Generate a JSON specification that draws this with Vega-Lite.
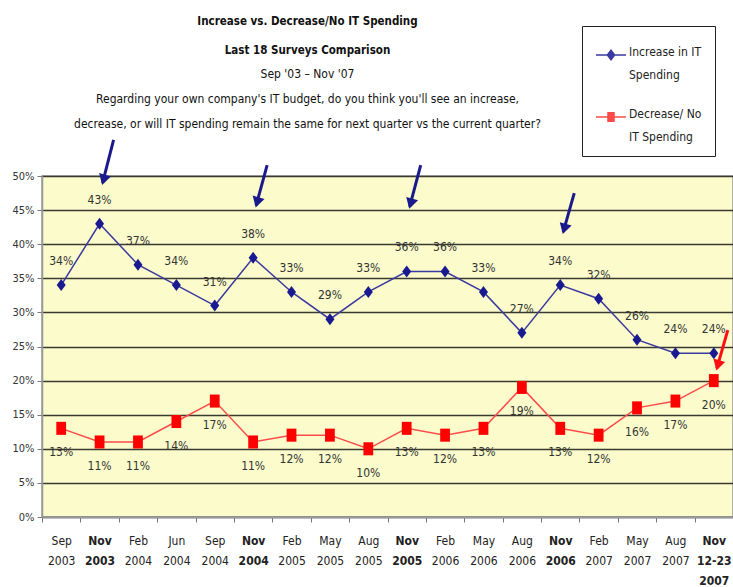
{
  "$schema": "https://vega.github.io/schema/vega-lite/v6.json",
  "width": 691,
  "height": 341,
  "autosize": {"type": "none"},
  "padding": {"left": 42, "top": 176, "right": 0, "bottom": 70},
  "background": "white",
  "config": {
    "font": "Liberation Sans Narrow, DejaVu Sans Condensed, sans-serif",
    "view": {"fill": "#FBFBCB", "stroke": "#999999", "strokeWidth": 1.5}
  },
  "title": {
    "text": ["Increase vs. Decrease/No IT Spending", "Last 18 Surveys Comparison"],
    "subtitle": ["Sep '03 \u2013 Nov '07", "Regarding your own company's IT budget, do you think you'll see an increase,", "decrease, or will IT spending remain the same for next quarter vs the current quarter?"],
    "fontSize": 11.5,
    "fontWeight": "bold",
    "lineHeight": 29,
    "color": "#111111",
    "subtitleFontSize": 12,
    "subtitleLineHeight": 25,
    "subtitleColor": "#111111",
    "subtitlePadding": 12,
    "anchor": "middle",
    "frame": "group",
    "dx": -80,
    "offset": -104
  },
  "datasets": {
    "main": [
      {"cat": "Sep|2003", "series": "Increase in IT Spending", "value": 0.34},
      {"cat": "Nov|2003", "series": "Increase in IT Spending", "value": 0.43},
      {"cat": "Feb|2004", "series": "Increase in IT Spending", "value": 0.37},
      {"cat": "Jun|2004", "series": "Increase in IT Spending", "value": 0.34},
      {"cat": "Sep|2004", "series": "Increase in IT Spending", "value": 0.31},
      {"cat": "Nov|2004", "series": "Increase in IT Spending", "value": 0.38},
      {"cat": "Feb|2005", "series": "Increase in IT Spending", "value": 0.33},
      {"cat": "May|2005", "series": "Increase in IT Spending", "value": 0.29},
      {"cat": "Aug|2005", "series": "Increase in IT Spending", "value": 0.33},
      {"cat": "Nov|2005", "series": "Increase in IT Spending", "value": 0.36},
      {"cat": "Feb|2006", "series": "Increase in IT Spending", "value": 0.36},
      {"cat": "May|2006", "series": "Increase in IT Spending", "value": 0.33},
      {"cat": "Aug|2006", "series": "Increase in IT Spending", "value": 0.27},
      {"cat": "Nov|2006", "series": "Increase in IT Spending", "value": 0.34},
      {"cat": "Feb|2007", "series": "Increase in IT Spending", "value": 0.32},
      {"cat": "May|2007", "series": "Increase in IT Spending", "value": 0.26},
      {"cat": "Aug|2007", "series": "Increase in IT Spending", "value": 0.24},
      {"cat": "Nov|12-23|2007", "series": "Increase in IT Spending", "value": 0.24},
      {"cat": "Sep|2003", "series": "Decrease/ No IT Spending", "value": 0.13},
      {"cat": "Nov|2003", "series": "Decrease/ No IT Spending", "value": 0.11},
      {"cat": "Feb|2004", "series": "Decrease/ No IT Spending", "value": 0.11},
      {"cat": "Jun|2004", "series": "Decrease/ No IT Spending", "value": 0.14},
      {"cat": "Sep|2004", "series": "Decrease/ No IT Spending", "value": 0.17},
      {"cat": "Nov|2004", "series": "Decrease/ No IT Spending", "value": 0.11},
      {"cat": "Feb|2005", "series": "Decrease/ No IT Spending", "value": 0.12},
      {"cat": "May|2005", "series": "Decrease/ No IT Spending", "value": 0.12},
      {"cat": "Aug|2005", "series": "Decrease/ No IT Spending", "value": 0.10},
      {"cat": "Nov|2005", "series": "Decrease/ No IT Spending", "value": 0.13},
      {"cat": "Feb|2006", "series": "Decrease/ No IT Spending", "value": 0.12},
      {"cat": "May|2006", "series": "Decrease/ No IT Spending", "value": 0.13},
      {"cat": "Aug|2006", "series": "Decrease/ No IT Spending", "value": 0.19},
      {"cat": "Nov|2006", "series": "Decrease/ No IT Spending", "value": 0.13},
      {"cat": "Feb|2007", "series": "Decrease/ No IT Spending", "value": 0.12},
      {"cat": "May|2007", "series": "Decrease/ No IT Spending", "value": 0.16},
      {"cat": "Aug|2007", "series": "Decrease/ No IT Spending", "value": 0.17},
      {"cat": "Nov|12-23|2007", "series": "Decrease/ No IT Spending", "value": 0.20}
    ],
    "arrows": [
      {"cat": "Nov|2003", "from": 0.553, "value": 0.49},
      {"cat": "Nov|2004", "from": 0.516, "value": 0.457},
      {"cat": "Nov|2005", "from": 0.516, "value": 0.455},
      {"cat": "Nov|2006", "from": 0.475, "value": 0.418},
      {"cat": "Nov|12-23|2007", "from": 0.274, "value": 0.218}
    ]
  },
  "data": {"name": "main"},
  "encoding": {
    "x": {
      "field": "cat", "type": "ordinal",
      "scale": {"type": "band", "paddingInner": 0, "paddingOuter": 0,
        "domain": ["Sep|2003", "Nov|2003", "Feb|2004", "Jun|2004", "Sep|2004", "Nov|2004", "Feb|2005", "May|2005", "Aug|2005", "Nov|2005", "Feb|2006", "May|2006", "Aug|2006", "Nov|2006", "Feb|2007", "May|2007", "Aug|2007", "Nov|12-23|2007"]},
      "axis": {
        "title": null, "labelAngle": 0, "labelExpr": "isString(datum.value) ? split(datum.value, '|') : ''",
        "labelFontSize": 12, "labelLineHeight": 20, "labelColor": "#222222",
        "labelFontWeight": {"condition": {"test": "isString(datum.value) && indexof(datum.value, 'Nov') == 0", "value": "bold"}, "value": "normal"},
        "labelBaseline": "top", "labelPadding": 13,
        "tickBand": "extent", "tickColor": "#777777", "tickSize": 5,
        "domainColor": "#999999", "domainWidth": 1.5, "grid": false
      }
    },
    "y": {
      "field": "value", "type": "quantitative",
      "scale": {"domain": [0, 0.5], "nice": false},
      "axis": {
        "title": null, "format": ".0%", "values": [0, 0.05, 0.1, 0.15, 0.2, 0.25, 0.3, 0.35, 0.4, 0.45, 0.5],
        "grid": true, "gridColor": "#3a3a30", "gridWidth": 1.3,
        "labelFontSize": 11, "labelColor": "#333333", "labelPadding": 3,
        "tickColor": "#777777", "tickSize": 5, "domainColor": "#999999", "domainWidth": 1.5
      }
    }
  },
  "layer": [
    {
      "mark": {"type": "line", "strokeWidth": 1.5},
      "encoding": {
        "color": {
          "field": "series", "type": "nominal",
          "scale": {"domain": ["Increase in IT Spending", "Decrease/ No IT Spending"], "range": ["#3a3aa0", "#ff4a4a"]},
          "legend": {
            "orient": "none", "legendX": 540, "legendY": -150, "title": null,
            "strokeColor": "#222222", "fillColor": "white", "padding": 13,
            "symbolSize": 900, "symbolStrokeWidth": 1.5, "rowPadding": 20,
            "labelFontSize": 12, "labelColor": "#222222", "labelLimit": 200,
            "labelExpr": "datum.value == 'Increase in IT Spending' ? ['Increase in IT', 'Spending'] : ['Decrease/ No', 'IT Spending']",
            "labelOffset": 2,
            "labelBaseline": "top",
            "encode": {
              "symbols": {"update": {
                "fill": {"scale": "color", "field": "value"},
                "shape": {"signal": "datum.value == 'Increase in IT Spending' ? 'M-1,0H1M0,-0.32L0.24,0L0,0.32L-0.24,0Z' : 'M-1,0H1M-0.2,-0.28H0.2V0.28H-0.2Z'"}
              }},
              "labels": {"update": {"lineHeight": {"value": 23}, "dy": {"value": -8}}}
            }
          }
        }
      }
    },
    {
      "transform": [{"filter": "datum.series == 'Increase in IT Spending'"}],
      "mark": {"type": "point", "filled": true, "opacity": 1, "shape": "M0,-1L0.75,0L0,1L-0.75,0Z", "size": 144, "color": "#1a1a90"}
    },
    {
      "transform": [{"filter": "datum.series == 'Decrease/ No IT Spending'"}],
      "mark": {"type": "point", "filled": true, "opacity": 1, "shape": "M-0.75,-1H0.75V1H-0.75Z", "size": 170, "color": "#ff0000"}
    },
    {
      "transform": [{"filter": "datum.series == 'Increase in IT Spending'"}],
      "mark": {"type": "text", "dy": -24, "fontSize": 12, "color": "#333333"},
      "encoding": {
        "text": {"field": "value", "type": "quantitative", "format": ".0%"}
      }
    },
    {
      "transform": [{"filter": "datum.series == 'Decrease/ No IT Spending'"}],
      "mark": {"type": "text", "dy": 24, "fontSize": 12, "color": "#333333"},
      "encoding": {
        "text": {"field": "value", "type": "quantitative", "format": ".0%"}
      }
    },
    {
      "data": {"name": "arrows"},
      "mark": {"type": "rule", "strokeWidth": 3, "xOffset": 3, "x2Offset": 14},
      "encoding": {
        "x2": {"field": "cat"},
        "y2": {"field": "from"},
        "color": {"condition": {"test": "datum.cat == 'Nov|12-23|2007'", "value": "#ff1010"}, "value": "#1a1a8c"}
      }
    },
    {
      "data": {"name": "arrows"},
      "mark": {"type": "point", "shape": "triangle-down", "filled": true, "opacity": 1, "size": 150, "angle": 16, "xOffset": 4, "yOffset": -3},
      "encoding": {
        "color": {"condition": {"test": "datum.cat == 'Nov|12-23|2007'", "value": "#ff1010"}, "value": "#1a1a8c"}
      }
    }
  ]
}
